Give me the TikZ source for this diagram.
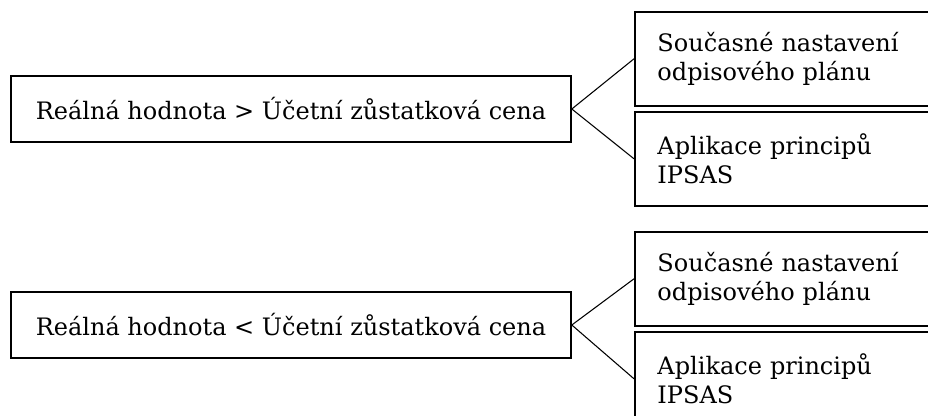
\documentclass[tikz,border=0pt]{standalone}
\usepackage{fontspec}
\setmainfont{DejaVu Serif}
\usetikzlibrary{positioning}

\tikzset{
	mainbox/.style={draw, line width=1.2pt, minimum width=420pt, minimum height=49.5pt, inner sep=0pt},
	subbox/.style={draw, line width=1.2pt, anchor=north west, text width=260pt, inner xsep=17pt, minimum height=70.5pt, align=left},
	branch/.style={line width=0.8pt}
}

\begin{document}
\begin{tikzpicture}[x=0.75pt, y=-0.75pt, font=\fontsize{18}{21.4}\selectfont]
			%%%%% START %%%%%
			
			\useasboundingbox (0, 0) rectangle (928, 416);
			\clip (0, 0) rectangle (928, 416);
			
			%%% upper group
			\node[mainbox] (vyssi) at (291, 109) {Reálná hodnota > Účetní zůstatková cena};
			\node[subbox] (vyssiplan) at (634, 11) {Současné nastavení\\odpisového plánu};
			\node[subbox] (vyssiipsas) at (634, 111) {Aplikace principů\\IPSAS};
			
			\draw[branch] (vyssi.east) -- (vyssiplan.west);
			\draw[branch] (vyssi.east) -- (vyssiipsas.west);
			
			%%% lower group
			\node[mainbox] (nizsi) at (291, 325) {Reálná hodnota < Účetní zůstatková cena};
			\node[subbox] (nizsiplan) at (634, 231) {Současné nastavení\\odpisového plánu};
			\node[subbox] (nizsiipsas) at (634, 331) {Aplikace principů\\IPSAS};
			
			\draw[branch] (nizsi.east) -- (nizsiplan.west);
			\draw[branch] (nizsi.east) -- (nizsiipsas.west);
			
			%%%%% END %%%%%
		\end{tikzpicture}
\end{document}
